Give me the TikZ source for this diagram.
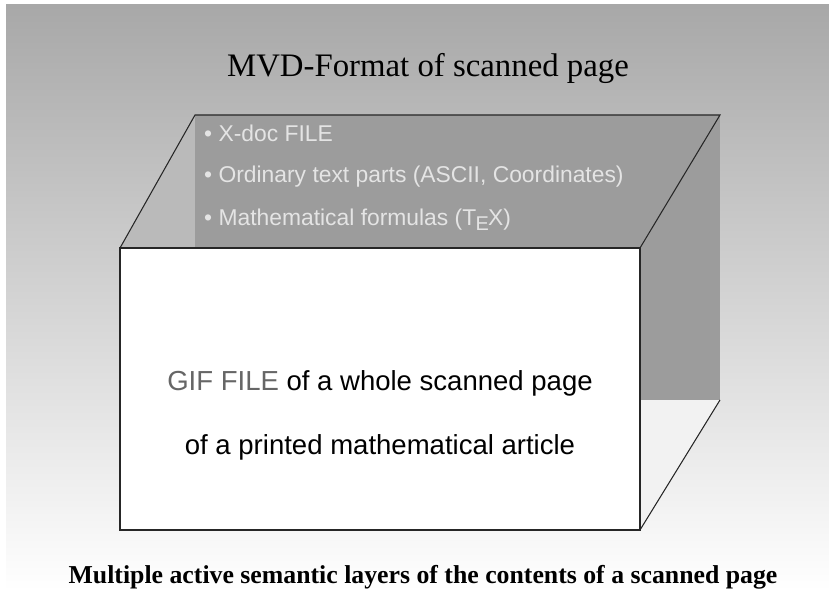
\documentclass[tikz,border=0pt]{standalone}
\usepackage{fontspec}
\setmainfont{Liberation Serif}
\setsansfont{Liberation Sans}
\usetikzlibrary{positioning}
\definecolor{BackGray}{HTML}{A8A8A8}
\definecolor{PanelGray}{HTML}{9C9C9C}
\definecolor{WallGray}{HTML}{BABABA}
\definecolor{FloorGray}{HTML}{F2F2F2}
\definecolor{PanelText}{HTML}{E4E4E4}
\definecolor{GifGray}{HTML}{666666}
\newcommand{\sansTeX}{T\kern-0.03em\raisebox{-0.45ex}{\fontsize{17}{18}\selectfont E}\kern-0.03em X}
\tikzset{
  boxedge/.style={draw=black!85, line width=0.9pt},
  frontbox/.style={draw=black!85, line width=1.8pt, fill=white},
  panelitem/.style={anchor=west, inner sep=0pt, text=PanelText,
    font=\sffamily\fontsize{19.5}{22}\selectfont},
  fronttext/.style={inner sep=0pt, font=\sffamily\fontsize{23.5}{26}\selectfont},
}

\begin{document}
\begin{tikzpicture}[x=0.03cm, y=-0.03cm]
  \useasboundingbox (0,0) rectangle (829,591);
  \shade[top color=BackGray, bottom color=white] (6,5) rectangle (829,591);
  % corners of the open box
  \coordinate (backtl) at (195,115);
  \coordinate (backtr) at (720,115);
  \coordinate (backbl) at (195,248);
  \coordinate (backbr) at (720,400);
  \coordinate (fronttl) at (120,248);
  \coordinate (fronttr) at (640,248);
  \coordinate (frontbr) at (640,530);
  \coordinate (floor) at (640,400);
  % walls
  \fill[WallGray] (fronttl) -- (backtl) -- (backbl) -- cycle;
  \fill[PanelGray] (backtl) rectangle (backbr);
  \fill[FloorGray] (floor) -- (backbr) -- (frontbr) -- cycle;
  \draw[boxedge] (fronttl) -- (backtl) -- (backtr) -- (fronttr);
  \draw[boxedge] (backbr) -- (frontbr);
  % front face
  \draw[frontbox] (fronttl) rectangle (frontbr);

  \node (title) at (428,68) {\fontsize{28}{32}\selectfont MVD-Format of scanned page};

  \node[panelitem] (xdoc) at (204,133) {\textbullet\ X-doc FILE};
  \node[panelitem] (ordinary) at (204,177) {\textbullet\ Ordinary text parts (ASCII, Coordinates)};
  \node[panelitem] (formulas) at (204,220) {\textbullet\ Mathematical formulas (\sansTeX)};

  \node[fronttext] (gif) at (380,383) {\textcolor{GifGray}{GIF FILE} of a whole scanned page};
  \node[fronttext] (article) at (380,447) {of a printed mathematical article};

  \node (caption) at (423,577) {\fontsize{22}{24}\selectfont\bfseries Multiple active semantic layers of the contents of a scanned page};
\end{tikzpicture}
\end{document}
